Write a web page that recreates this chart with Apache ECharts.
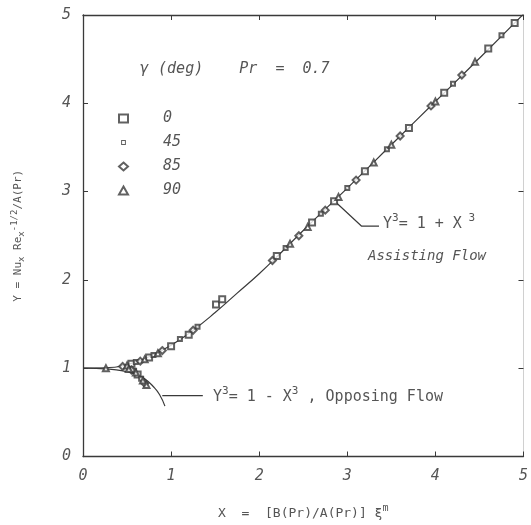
<!DOCTYPE html>
<html><head><meta charset="utf-8">
<script src="https://cdn.jsdelivr.net/npm/echarts@6/dist/echarts.min.js"></script>
<style>html,body{margin:0;padding:0;background:#fff}#c{width:531px;height:525px}</style>
</head><body><div id="c"></div>
<script>
// Axis ticks
const xTicks = [0, 1, 2, 3, 4, 5];
const yTicks = [0, 1, 2, 3, 4, 5];
// Correlation curves
const assistX = [0, 0.25, 0.5, 0.75, 1.0, 1.25, 1.5, 1.75, 2.0, 2.25, 2.5, 3.0, 3.5, 4.0, 4.5, 5.0];
const assistY = [1.0, 1.005, 1.04, 1.13, 1.26, 1.43, 1.63, 1.85, 2.07, 2.31, 2.56, 3.04, 3.53, 4.02, 4.51, 5.01];
const opposeX = [0, 0.3, 0.5, 0.6, 0.7, 0.8, 0.87, 0.93];
const opposeY = [1.0, 0.99, 0.96, 0.93, 0.88, 0.79, 0.70, 0.57];
// Data points by inclination angle (deg)
const pts0  = [[0.55,1.05],[0.75,1.12],[1.0,1.25],[1.2,1.38],[1.51,1.72],[1.58,1.78],[2.2,2.27],[2.6,2.65],[2.85,2.89],[3.2,3.23],[3.7,3.72],[4.1,4.12],[4.6,4.62],[4.9,4.91],[0.62,0.93]];
const pts45 = [[0.6,1.07],[0.8,1.15],[1.1,1.33],[1.3,1.47],[2.3,2.36],[2.7,2.75],[3.0,3.04],[3.45,3.48],[4.2,4.22],[4.75,4.77],[0.58,0.97],[0.66,0.88]];
const pts85 = [[0.45,1.02],[0.65,1.08],[0.9,1.2],[1.25,1.43],[2.15,2.22],[2.45,2.5],[2.75,2.79],[3.1,3.13],[3.6,3.63],[3.95,3.97],[4.3,4.32],[0.55,0.98],[0.7,0.83]];
const pts90 = [[0.26,1.0],[0.5,1.03],[0.7,1.1],[0.85,1.17],[2.35,2.41],[2.55,2.6],[2.9,2.94],[3.3,3.33],[3.5,3.53],[4.0,4.02],[4.45,4.47],[0.52,0.99],[0.6,0.95],[0.68,0.86],[0.72,0.81]];
// Annotation leader lines (data coordinates)
const leadAssist = [[2.87,2.88],[3.16,2.61],[3.36,2.61]];
const leadOppose = [[0.90,0.69],[1.36,0.69]];

const zip = (a, b) => a.map((v, i) => [v, b[i]]);
const ink = '#3a3a3a', txt = '#555';
const font = 'DejaVu Sans Mono';
const chart = echarts.init(document.getElementById('c'), null, {renderer: 'canvas'});
const sc = (name, sym, data, size) => ({
  name, type: 'scatter', symbol: sym, symbolSize: size, data,
  itemStyle: {color: ink, borderColor: ink, borderWidth: 1.1}, z: 5
});
const ln = (data, smooth) => ({
  type: 'line', data, smooth, showSymbol: false, symbol: 'none',
  lineStyle: {color: ink, width: 1.2}, silent: true, z: 3
});
const axBase = {
  type: 'value', min: 0, max: 5, interval: 1,
  axisLine: {show: true, onZero: false, lineStyle: {color: ink, width: 1.3}},
  axisTick: {show: true, inside: true, length: 5, lineStyle: {color: ink}},
  splitLine: {show: false}
};
const smallSquareIcon = 'path://M0,0M1.8,1.8h5.4v5.4h-5.4zM2.9,2.9v3.2h3.2v-3.2zM9,9';
chart.setOption({
  animation: false,
  backgroundColor: '#fff',
  grid: {left: 83, right: 5, top: 15, bottom: 67},
  xAxis: [
    Object.assign({}, axBase, {
      position: 'bottom',
      axisLabel: {color: txt, fontFamily: font, fontStyle: 'italic', fontSize: 15, margin: 12,
        formatter: v => xTicks.includes(v) ? String(v) : ''},
      name: '{n|X  =  [B(Pr)/A(Pr)] \u03be}{s|m}', nameLocation: 'middle', nameGap: 47,
      nameTextStyle: {rich: {n: {color: txt, fontFamily: font, fontSize: 13}, s: {color: txt, fontFamily: font, fontSize: 10, padding: [0, 0, 10, 0]}}}
    }),
    Object.assign({}, axBase, {position: 'top', axisLabel: {show: false}})
  ],
  yAxis: [
    Object.assign({}, axBase, {
      position: 'left',
      axisLabel: {color: txt, fontFamily: font, fontStyle: 'italic', fontSize: 15, margin: 12,
        formatter: v => yTicks.includes(v) ? String(v) : ''},
      name: '{n|Y = Nu}{b|x}{n| Re}{b|x}{s|-1/2}{n|/A(Pr)}', nameLocation: 'middle', nameGap: 56,
      nameTextStyle: {rich: {n: {color: txt, fontFamily: font, fontSize: 11}, b: {color: txt, fontFamily: font, fontSize: 9, padding: [6, 0, 0, 0]}, s: {color: txt, fontFamily: font, fontSize: 9, padding: [0, 0, 8, 0]}}}
    }),
    Object.assign({}, axBase, {position: 'right', axisLabel: {show: false},
      axisLine: {show: true, onZero: false, lineStyle: {color: '#d0d0d0', width: 1}}})
  ],
  legend: {
    data: ['0', {name: '45', icon: smallSquareIcon, itemStyle: {color: ink, borderWidth: 0}}, '85', '90'],
    orient: 'vertical', left: 113, top: 106,
    itemGap: 9, itemWidth: 9, itemHeight: 8,
    textStyle: {color: txt, fontFamily: font, fontStyle: 'italic', fontSize: 15, padding: [0, 0, 0, 30]}
  },
  graphic: [
    {type: 'text', left: 140, top: 62, style: {text: '\u03b3 (deg)    Pr  =  0.7', fill: txt, font: 'italic 15px "DejaVu Sans Mono"'}},
    {type: 'text', left: 383, top: 213, style: {
      text: '{n|Y}{s|3}{n|= 1 + X}{s| 3}', fill: txt,
      rich: {n: {fill: txt, fontFamily: font, fontSize: 15}, s: {fill: txt, fontFamily: font, fontSize: 11, padding: [0, 0, 12, 0]}}}},
    {type: 'text', left: 368, top: 249, style: {text: 'Assisting Flow', fill: txt, font: 'italic 14px "DejaVu Sans Mono"'}},
    {type: 'text', left: 213, top: 386, style: {
      text: '{n|Y}{s|3}{n|= 1 - X}{s|3}{n| , Opposing Flow}', fill: txt,
      rich: {n: {fill: txt, fontFamily: font, fontSize: 15}, s: {fill: txt, fontFamily: font, fontSize: 11, padding: [0, 0, 12, 0]}}}}
  ],
  series: [
    ln(zip(assistX, assistY), 0.5),
    ln(zip(opposeX, opposeY), 0.5),
    ln(leadAssist, false),
    ln(leadOppose, false),
    sc('0', 'emptyRect', pts0, 6),
    sc('45', 'emptyRect', pts45, 4),
    sc('85', 'emptyDiamond', pts85, 7),
    sc('90', 'emptyTriangle', pts90, 6)
  ]
});
</script></body></html>
